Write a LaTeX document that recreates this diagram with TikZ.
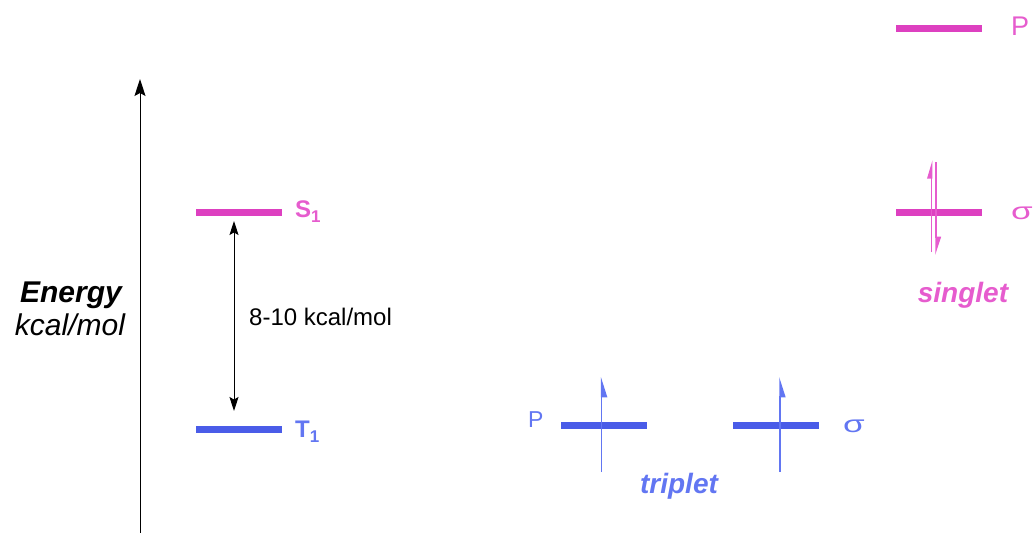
\documentclass[tikz,border=0pt]{standalone}
\usepackage{fontspec}
\setmainfont{Liberation Sans}
\usetikzlibrary{arrows.meta}
\definecolor{pinkL}{RGB}{221,64,192}
\definecolor{pinkT}{RGB}{230,92,206}
\definecolor{blueL}{RGB}{74,92,232}
\definecolor{blueT}{RGB}{98,118,242}
\newcommand{\levsub}[1]{\raisebox{-5pt}{\fontsize{17pt}{20pt}\selectfont #1}}
\newcommand{\sig}{\scalebox{1.25}[0.85]{σ}}
\tikzset{
  level/.style={line width=7pt},
  lbl/.style={inner sep=0pt, anchor=base west},
  axisarrow/.style={line width=1pt, -{Stealth[length=17pt,width=11pt,inset=3pt]}},
  gaparrow/.style={line width=1pt, {Stealth[length=14pt,width=9pt,inset=2.5pt]}-{Stealth[length=14pt,width=9pt,inset=2.5pt]}},
  spinup/.style={line width=1.5pt, -{Triangle[harpoon,swap,length=18pt,width=11pt]}},
  spinupL/.style={line width=1.5pt, -{Triangle[harpoon,length=16pt,width=9pt]}},
  spindownR/.style={line width=1.5pt, -{Triangle[harpoon,length=16pt,width=10pt]}},
}
\begin{document}
\begin{tikzpicture}[x=1pt,y=-1pt]
\useasboundingbox (0,0) rectangle (1034,533);

% energy axis
\coordinate (axbot) at (140,533);
\coordinate (axtop) at (140,79);
\draw[axisarrow] (axbot) -- (axtop);
\node[inner sep=0pt, anchor=base] (energy) at (71,302) {\fontsize{30pt}{34pt}\selectfont\bfseries\itshape Energy};
\node[inner sep=0pt, anchor=base] (unit) at (70,335) {\fontsize{30pt}{34pt}\selectfont\itshape kcal/mol};

% S1 and T1 levels
\coordinate (s1a) at (196,212); \coordinate (s1b) at (282,212);
\draw[level, pinkL] (s1a) -- (s1b);
\node[lbl, text=pinkT] (s1) at (295,217) {\fontsize{24pt}{28pt}\selectfont\bfseries S\levsub{1}};
\coordinate (t1a) at (196,429.5); \coordinate (t1b) at (282,429.5);
\draw[level, blueL] (t1a) -- (t1b);
\node[lbl, text=blueT] (t1) at (295,437) {\fontsize{24pt}{28pt}\selectfont\bfseries T\levsub{1}};

\coordinate (gtop) at (234,221);
\coordinate (gbot) at (234,411);
\draw[gaparrow] (gtop) -- (gbot);
\node[lbl] (gap) at (249,325) {\fontsize{24pt}{28pt}\selectfont 8-10 kcal/mol};

% singlet
\coordinate (p1a) at (896,28); \coordinate (p1b) at (982,28);
\draw[level, pinkL] (p1a) -- (p1b);
\node[lbl, text=pinkT] (pS) at (1011,35) {\fontsize{27pt}{30pt}\selectfont P};
\coordinate (s2a) at (896,212); \coordinate (s2b) at (982,212);
\draw[level, pinkL] (s2a) -- (s2b);
\node[lbl, text=pinkT] (sigS) at (1011,219) {\fontsize{28pt}{30pt}\selectfont\sig};
\coordinate (uS0) at (931.7,252); \coordinate (uS1) at (931.7,160);
\draw[spinupL, pinkT] (uS0) -- (uS1);
\coordinate (dS0) at (936,162); \coordinate (dS1) at (936,255);
\draw[spindownR, pinkT] (dS0) -- (dS1);
\node[inner sep=0pt, anchor=base, text=pinkT] (singlet) at (963,302) {\fontsize{28pt}{30pt}\selectfont\bfseries\itshape singlet};

% triplet
\node[lbl, text=blueT] (pT) at (528,427) {\fontsize{23pt}{26pt}\selectfont P};
\coordinate (p2a) at (561,425); \coordinate (p2b) at (647,425);
\draw[level, blueL] (p2a) -- (p2b);
\coordinate (s3a) at (733,425); \coordinate (s3b) at (819,425);
\draw[level, blueL] (s3a) -- (s3b);
\node[lbl, text=blueT] (sigT) at (843,432) {\fontsize{28pt}{30pt}\selectfont\sig};
\coordinate (uT0) at (601.7,472); \coordinate (uT1) at (601.7,377);
\draw[spinup, blueT] (uT0) -- (uT1);
\coordinate (uU0) at (780,472); \coordinate (uU1) at (780,377);
\draw[spinup, blueT] (uU0) -- (uU1);
\node[inner sep=0pt, anchor=base, text=blueT] (triplet) at (679,493) {\fontsize{28pt}{30pt}\selectfont\bfseries\itshape triplet};
\end{tikzpicture}
\end{document}
